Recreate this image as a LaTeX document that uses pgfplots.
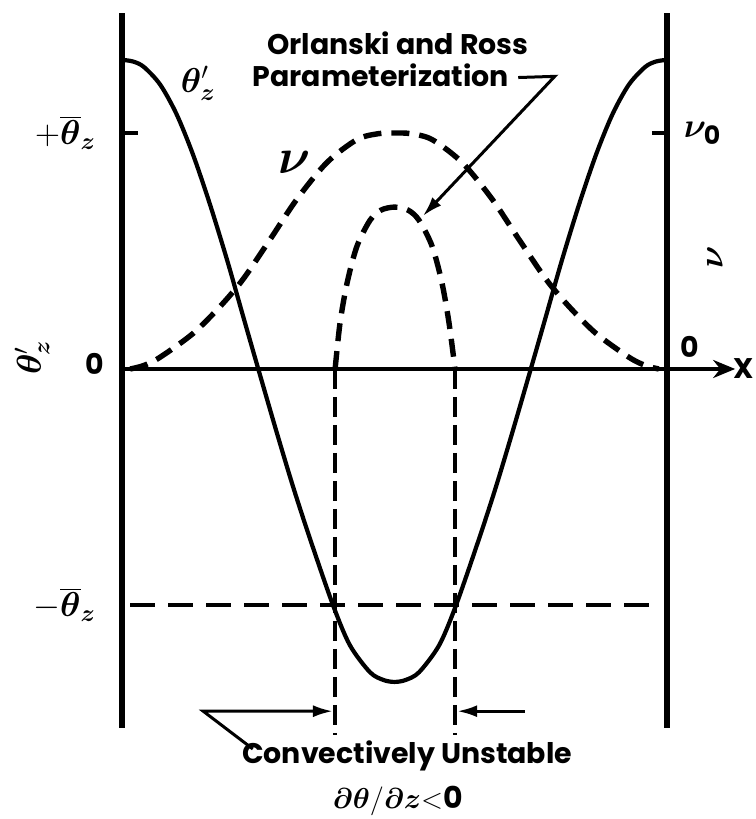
\documentclass[border=0pt]{standalone}
\usepackage{fontspec}
\setmainfont{Poppins}
\usepackage{bm}
\usepackage{pgfplots}
\pgfplotsset{compat=1.18}
\usetikzlibrary{arrows.meta}

\begin{document}
\begin{tikzpicture}[
    txt/.style={font=\fontsize{14.2}{16}\selectfont\bfseries},
    mth/.style={font=\fontsize{18}{20}\selectfont},
]
\begin{axis}[
    x=272.5pt, y=118pt,
    xmin=-0.2239, xmax=1.1615,
    ymin=-1.9068, ymax=1.5636,
    hide axis,
    clip=false,
]
% walls and x axis
\addplot[line width=2.6pt] coordinates {(0,-1.52) (0,1.51)};
\addplot[line width=2.6pt] coordinates {(1,-1.52) (1,1.51)};
\addplot[line width=2pt, -{Stealth[length=11pt,width=9pt]}] coordinates {(0,0) (1.125,0)};
\addplot[line width=1.8pt] coordinates {(0,1) (0.03,1)};
\addplot[line width=1.8pt] coordinates {(0.972,1) (1,1)};

% -theta_z level
\addplot[line width=1.6pt, dash pattern=on 12.5pt off 6.5pt] coordinates {(0.015,-1) (0.99,-1)};

% theta_z prime
\addplot[line width=2.1pt, smooth, tension=0.5] coordinates {
(0,1.31) (0.02,1.303) (0.04,1.28) (0.07,1.205) (0.10,1.08) (0.13,0.91)
(0.161,0.70) (0.193,0.46) (0.222,0.225) (0.25,0.0) (0.284,-0.27)
(0.314,-0.50) (0.345,-0.72) (0.387,-1.0) (0.418,-1.17) (0.455,-1.285)
(0.48,-1.318) (0.5,-1.326)
(0.52,-1.318) (0.545,-1.285) (0.582,-1.17) (0.613,-1.0) (0.655,-0.72)
(0.686,-0.50) (0.716,-0.27) (0.75,0.0) (0.778,0.225) (0.807,0.46)
(0.839,0.70) (0.87,0.91) (0.90,1.08) (0.93,1.205) (0.96,1.28)
(0.98,1.303) (1,1.31)};

% nu
\addplot[line width=2.7pt, smooth, tension=0.5, dash pattern=on 9pt off 5pt] coordinates {
(0.015,0) (0.04,0.015) (0.07,0.05) (0.13,0.15) (0.18,0.265) (0.222,0.38)
(0.272,0.55) (0.321,0.72) (0.376,0.875) (0.431,0.972) (0.47,0.997) (0.5,1.0)
(0.53,0.997) (0.569,0.972) (0.624,0.875) (0.679,0.72) (0.728,0.55)
(0.778,0.38) (0.82,0.265) (0.87,0.15) (0.93,0.05) (0.96,0.015) (0.985,0)};

% Orlanski and Ross parameterization
\addplot[line width=2.7pt, smooth, tension=0.5, dash pattern=on 9pt off 5pt] coordinates {
(0.391,0) (0.40,0.195) (0.413,0.365) (0.431,0.52) (0.455,0.63)
(0.475,0.673) (0.5,0.686) (0.525,0.673) (0.545,0.63) (0.569,0.52)
(0.587,0.365) (0.600,0.195) (0.611,0)};
\addplot[line width=2pt, dash pattern=on 10pt off 4pt] coordinates {(0.391,0) (0.391,-1.55)};
\addplot[line width=2pt, dash pattern=on 10pt off 4pt] coordinates {(0.611,0) (0.611,-1.55)};

% annotation arrows
\addplot[line width=1.5pt, -{Latex[length=10pt,width=6pt]}] coordinates {
(0.727,1.235) (0.794,1.24) (0.552,0.648)};
\addplot[line width=1.5pt, -{Latex[length=10pt,width=6pt]}] coordinates {
(0.24,-1.61) (0.149,-1.45) (0.387,-1.45)};
\addplot[line width=1.5pt, -{Latex[length=10pt,width=6pt]}] coordinates {
(0.739,-1.45) (0.615,-1.45)};

% label anchors
\coordinate (Lp) at (axis cs:-0.035,1.0);
\coordinate (Lz) at (axis cs:-0.02,0.02);
\coordinate (Lm) at (axis cs:-0.035,-1.0);
\coordinate (Ly) at (axis cs:-0.165,0.05);
\coordinate (Rn) at (axis cs:1.018,1.0);
\coordinate (Rz) at (axis cs:1.012,0.02);
\coordinate (Ry) at (axis cs:1.088,0.475);
\coordinate (Rx) at (axis cs:1.1615,0);
\coordinate (Ct) at (axis cs:0.14,1.21);
\coordinate (Cn) at (axis cs:0.317,0.877);
\coordinate (T1) at (axis cs:0.506,1.38);
\coordinate (T2) at (axis cs:0.714,1.245);
\coordinate (B1) at (axis cs:0.523,-1.64);
\coordinate (B2) at (axis cs:0.506,-1.83);
\end{axis}
\node[mth, anchor=east] at (Lp) {$+\overline{\bm{\theta}}_{\bm{z}}$};
\node[txt, anchor=east] at (Lz) {0};
\node[mth, anchor=east] at (Lm) {$-\overline{\bm{\theta}}_{\bm{z}}$};
\node[mth, rotate=90] at (Ly) {$\bm{\theta}^{\prime}_{\bm{z}}$};
\node[mth, anchor=west] at (Rn) {$\bm{\nu}_{\mathbf{0}}$};
\node[txt, anchor=south west] at (Rz) {0};
\node[mth, rotate=90] at (Ry) {$\bm{\nu}$};
\node[txt, anchor=east, inner sep=0.5pt] at (Rx) {X};
\node[mth] at (Ct) {$\bm{\theta}^{\prime}_{\bm{z}}$};
\node[font=\fontsize{23}{25}\selectfont] at (Cn) {$\bm{\nu}$};
\node[txt] at (T1) {Orlanski and Ross};
\node[txt, anchor=east, inner sep=1pt] at (T2) {Parameterization};
\node[txt] at (B1) {Convectively Unstable};
\node[font=\fontsize{15}{17}\selectfont] at (B2) {$\bm{\partial}\bm{\theta}/\bm{\partial}\bm{z}{<}\mathbf{0}$};
\pgfresetboundingbox
\path (current axis.south west) rectangle (current axis.north east);
\end{tikzpicture}
\end{document}
